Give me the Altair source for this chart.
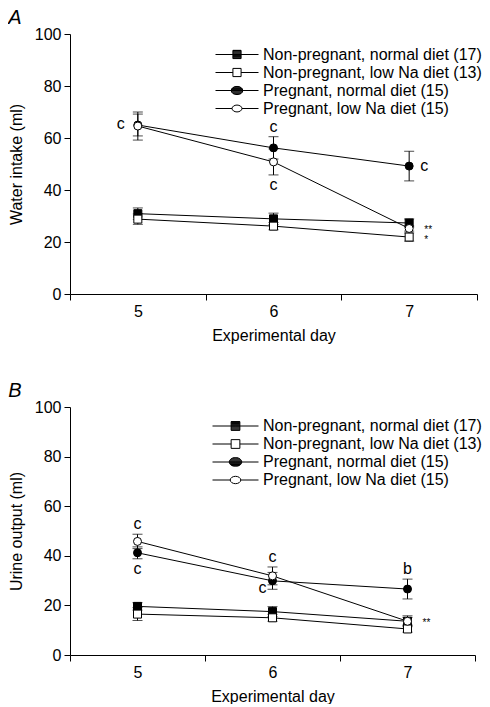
import altair as alt
import pandas as pd
import math

FONT = "Liberation Sans"

days = [5, 6, 7]
series_names = [
    "Non-pregnant, normal diet (17)",
    "Non-pregnant, low Na diet (13)",
    "Pregnant, normal diet (15)",
    "Pregnant, low Na diet (15)",
]
series_shapes = ["square", "square", "circle", "circle"]
series_fills = ["black", "white", "black", "white"]
series_sizes = [64, 64, 100, 100]

# Panel A: water intake (ml), mean and error per day 5, 6, 7
water_np_normal = [30.9, 28.9, 27.3]
water_np_normal_err = [2.2, 2.2, 1.6]
water_np_lowna = [28.8, 26.1, 21.9]
water_np_lowna_err = [2.0, 1.4, 1.6]
water_p_normal = [65.0, 56.2, 49.2]
water_p_normal_err = [4.2, 4.3, 5.7]
water_p_lowna = [64.6, 50.8, 25.2]
water_p_lowna_err = [5.4, 5.0, 1.0]

# Panel B: urine output (ml)
urine_np_normal = [19.6, 17.5, 13.6]
urine_np_normal_err = [1.5, 2.0, 2.2]
urine_np_lowna = [16.5, 15.0, 10.5]
urine_np_lowna_err = [2.6, 1.4, 1.3]
urine_p_normal = [41.2, 29.9, 26.6]
urine_p_normal_err = [2.4, 3.4, 4.0]
urine_p_lowna = [45.8, 31.9, 13.6]
urine_p_lowna_err = [2.9, 3.6, 1.5]

# Annotations: (series index, day, label, placement)
water_notes = [
    (2, 5, "c", "left"),
    (2, 6, "c", "above"),
    (3, 6, "c", "below"),
    (2, 7, "c", "right"),
    (3, 7, "**", "star"),
    (1, 7, "*", "star1"),
]
urine_notes = [
    (3, 5, "c", "above"),
    (2, 5, "c", "below"),
    (3, 6, "c", "above"),
    (2, 6, "c", "leftbelow"),
    (2, 7, "b", "above"),
    (3, 7, "**", "star"),
]

placement_style = {
    "left": dict(dx=-17, dy=4, fontSize=16),
    "right": dict(dx=15, dy=5, fontSize=16),
    "above": dict(dx=0, dy=-5, fontSize=16),
    "below": dict(dx=0, dy=15, fontSize=16),
    "leftbelow": dict(dx=-10, dy=12, fontSize=16),
    "star": dict(dx=19, dy=5, fontSize=10),
    "star1": dict(dx=17, dy=6, fontSize=10),
}


def f(v):
    return f"{v:.3f}"


def legend_paths():
    """Legend glyphs: a line with a marker in the middle (solid markers are hatched)."""
    s = 0.19
    step = 0.04

    def line(gap):
        return f"M-1,0H{f(-gap)}M{f(gap)},0H1"

    sq_outline = f"M{f(-s)},{f(-s)}H{f(s)}V{f(s)}H{f(-s)}Z"
    sq_fill = ""
    y = -s
    while y <= s + 1e-9:
        sq_fill += f"M{f(-s)},{f(y)}H{f(s)}"
        y += step

    def ell_outline(rx, ry):
        return (f"M{f(-rx)},0A{f(rx)},{f(ry)} 0 1,0 {f(rx)},0"
                f"A{f(rx)},{f(ry)} 0 1,0 {f(-rx)},0Z")

    def ell_fill(rx, ry):
        out = ""
        y = -ry + step / 2
        while y < ry:
            hw = rx * math.sqrt(max(0.0, 1 - (y / ry) ** 2))
            out += f"M{f(-hw)},{f(y)}H{f(hw)}"
            y += step
        return out

    solid_sq = line(0) + sq_outline + sq_fill
    open_sq = line(s) + sq_outline
    solid_c = line(0) + ell_outline(0.27, 0.19) + ell_fill(0.27, 0.19)
    open_c = line(0.23) + ell_outline(0.23, 0.16)
    return [solid_sq, open_sq, solid_c, open_c]


def panel(letter, ytitle, means, errs, notes, width, height, lx, ly, symsize):
    rows = []
    for si, name in enumerate(series_names):
        for di, d in enumerate(days):
            m = means[si][di]
            e = errs[si][di]
            rows.append(dict(series=name, day=d, mean=m, lo=m - e, hi=m + e))
    df = pd.DataFrame(rows)

    nrows = []
    for si, d, lab, pl in notes:
        di = days.index(d)
        m = means[si][di]
        e = errs[si][di]
        yv = m + e if pl == "above" else (m - e if pl == "below" else m)
        nrows.append(dict(day=d, yv=yv, label=lab, placement=pl))
    ndf = pd.DataFrame(nrows)

    xenc = alt.X(
        "day:Q",
        scale=alt.Scale(domain=[4.5, 7.5], nice=False, zero=False),
        axis=alt.Axis(
            values=[4.5, 5, 5.5, 6, 6.5, 7, 7.5],
            labelExpr="datum.value % 1 === 0 ? replace(datum.label, '.0', '') : ''",
            tickOpacity={"condition": {"test": "datum.value % 1 === 0", "value": 0}, "value": 1},
            title="Experimental day",
        ),
    )

    def yenc(field):
        return alt.Y(
            field,
            scale=alt.Scale(domain=[0, 100], nice=False),
            axis=alt.Axis(values=[0, 20, 40, 60, 80, 100], title=ytitle),
        )

    base = alt.Chart(df)
    dom = series_names

    lines = base.mark_line(color="black", strokeWidth=1).encode(
        x=xenc, y=yenc("mean:Q"), detail="series:N"
    )
    rules = base.mark_rule(color="black", strokeWidth=1).encode(
        x=xenc, y=yenc("lo:Q"), y2="hi:Q"
    )
    caps_lo = base.mark_tick(color="black", orient="horizontal", size=10, thickness=1).encode(
        x=xenc, y=yenc("lo:Q")
    )
    caps_hi = base.mark_tick(color="black", orient="horizontal", size=10, thickness=1).encode(
        x=xenc, y=yenc("hi:Q")
    )
    points = base.mark_point(filled=False, color="black", strokeWidth=1, opacity=1).encode(
        x=xenc,
        y=yenc("mean:Q"),
        shape=alt.Shape("series:N", scale=alt.Scale(domain=dom, range=series_shapes), legend=None),
        fill=alt.Fill("series:N", scale=alt.Scale(domain=dom, range=series_fills), legend=None),
        size=alt.Size("series:N", scale=alt.Scale(domain=dom, range=series_sizes), legend=None),
    )
    legend_layer = base.transform_filter("false").mark_point(
        filled=False, color="black", strokeWidth=1, opacity=1
    ).encode(
        x=xenc,
        y=yenc("mean:Q"),
        shape=alt.Shape(
            "series:N",
            scale=alt.Scale(domain=dom, range=legend_paths()),
            legend=alt.Legend(
                title=None, orient="none", legendX=lx, legendY=ly,
                symbolSize=symsize, symbolStrokeWidth=1, symbolStrokeColor="black",
                symbolFillColor="transparent",
                labelFont=FONT, labelFontSize=16, labelColor="black",
                labelOffset=4, rowPadding=2, padding=0, labelLimit=400, clipHeight=16,
            ),
        ),
    )

    text_layers = []
    for pl, st in placement_style.items():
        sub = ndf[ndf["placement"] == pl]
        if len(sub) == 0:
            continue
        t = alt.Chart(sub).mark_text(
            font=FONT, fontSize=st["fontSize"], color="black",
            dx=st["dx"], dy=st["dy"], align="center", baseline="alphabetic",
        ).encode(x=xenc, y=yenc("yv:Q"), text="label:N")
        text_layers.append(t)

    chart = alt.layer(lines, rules, caps_lo, caps_hi, points, legend_layer, *text_layers).resolve_scale(
        shape="independent", fill="independent", size="independent"
    ).properties(
        width=width, height=height,
        title=alt.Title(letter, anchor="start", frame="bounds", fontStyle="italic",
                        fontSize=20, fontWeight="normal", font=FONT, color="black", offset=-2),
    )
    return chart


water_means = [water_np_normal, water_np_lowna, water_p_normal, water_p_lowna]
water_errs = [water_np_normal_err, water_np_lowna_err, water_p_normal_err, water_p_lowna_err]
urine_means = [urine_np_normal, urine_np_lowna, urine_p_normal, urine_p_lowna]
urine_errs = [urine_np_normal_err, urine_np_lowna_err, urine_p_normal_err, urine_p_lowna_err]

chartA = panel("A", "Water intake (ml)", water_means, water_errs, water_notes,
               407, 260, 145, 12.5, 1849)
chartB = panel("B", "Urine output (ml)", urine_means, urine_errs, urine_notes,
               405, 248, 142, 11, 2116)

chart = alt.vconcat(chartA, chartB, spacing=38).configure(
    padding=0
).configure_view(stroke=None).configure_axis(
    domainColor="black", tickColor="black", labelColor="black", titleColor="black",
    labelFont=FONT, titleFont=FONT, labelFontSize=16, titleFontSize=16,
    titleFontWeight="normal", tickSize=6, labelPadding=3, grid=False,
).configure_axisY(titlePadding=10).configure_axisX(titlePadding=8)

chart.save("out.html", embed_options={"renderer": "svg", "actions": False})
